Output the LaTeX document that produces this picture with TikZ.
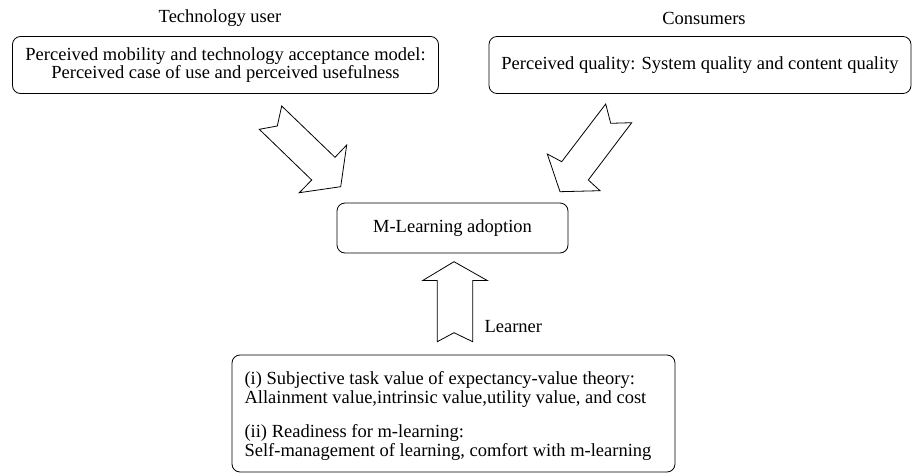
\documentclass[tikz,border=0pt]{standalone}
\usepackage{fontspec}
\setmainfont{Liberation Serif}
\begin{document}
\begin{tikzpicture}[x=1pt,y=-1pt,
  box/.style={draw, line width=0.8pt, rounded corners=8pt, inner sep=0pt},
  lbl/.style={font=\fontsize{18.5}{18.5}\selectfont},
  bigarrow/.style={draw, line width=0.8pt, fill=white, line join=miter}]
\useasboundingbox (0,0) rectangle (913,474);
\node[lbl] (tu) at (220,18) {Technology user};
\node[lbl] (co) at (704,18) {Consumers};
\node[box, lbl, minimum width=426pt, minimum height=57pt, align=center] (b1) at (225.5,65)
  {Perceived mobility and technology acceptance model:\\Perceived case of use and perceived usefulness};
\node[box, lbl, minimum width=422pt, minimum height=57pt] (b2) at (700,65)
  {Perceived quality: System quality and content quality};
\node[box, lbl, minimum width=231pt, minimum height=50pt] (mc) at (452.5,228)
  {M-Learning adoption};
\node[box, minimum width=443pt, minimum height=117pt] (b3) at (453.5,413.5) {};
\node[lbl, anchor=west, align=left] (b3t) at (241,416)
  {(i) Subjective task value of expectancy-value theory:\\
   Allainment value,intrinsic value,utility value, and cost\\[16pt]
   (ii) Readiness for m-learning:\\
   Self-management of learning, comfort with m-learning};
\node[lbl, anchor=west] (le) at (481,327) {Learner};
% left arrow
\draw[bigarrow] (281.7,106) -- (277.3,126) -- (259.3,129.3) -- (311.7,180) -- (299.3,192.7)
  -- (340.7,186.7) -- (346.7,145) -- (335,157.3) -- cycle;
% right arrow
\draw[bigarrow] (605.7,104) -- (610.7,123.3) -- (631.7,122.7) -- (588.3,180) -- (600,190.7)
  -- (560,191.7) -- (547.3,154) -- (561.7,161.7) -- cycle;
% up arrow
\draw[bigarrow] (454,261.7) -- (422.7,280.5) -- (437.3,280.5) -- (437.3,341.7) -- (454,332.7)
  -- (472.7,341.7) -- (472.7,280.5) -- (487.3,280.5) -- cycle;
\end{tikzpicture}
\end{document}
